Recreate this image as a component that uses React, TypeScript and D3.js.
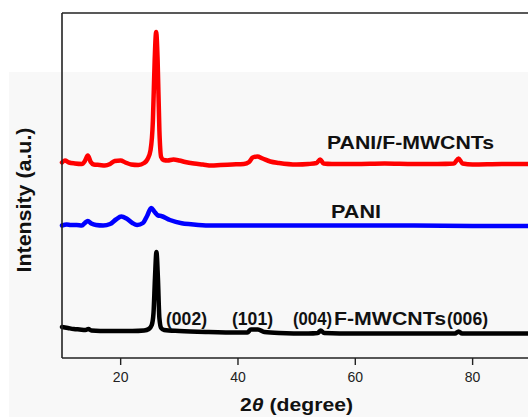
import React from "react";
import * as d3 from "d3";

const W = 528;
const H = 417;

// 2θ (degree) and intensity (a.u.) for each pattern
const pcTheta = [10.0, 10.5, 11.2, 12.2, 13.4, 13.9, 14.4, 14.9, 15.4, 16.4, 17.3, 18.2, 19.0, 20.0, 20.8, 21.8, 23.0, 24.0, 24.6, 25.1, 25.5, 25.8, 26.05, 26.3, 26.6, 26.9, 27.3, 28.0, 29.0, 30.0, 31.0, 32.5, 34.0, 35.5, 37.0, 39.0, 41.0, 41.9, 42.5, 43.3, 44.2, 45.5, 47.0, 50.0, 52.0, 53.4, 54.0, 54.6, 56.0, 60.0, 65.0, 70.0, 74.0, 76.8, 77.6, 78.3, 80.0, 85.0, 90.0];
const pcInt = [195.5, 197.5, 195.5, 194.5, 194, 197, 202.5, 196, 193.5, 193, 192.5, 194, 197, 197.5, 195.5, 193.5, 193, 195, 199, 208, 238, 298, 326, 298, 228, 201, 198, 197.5, 198.5, 197.5, 196, 194.5, 193.5, 192.5, 193, 193.5, 194, 196, 200.5, 201.5, 199.5, 196.5, 195, 193.5, 194, 195, 198.5, 194.5, 194, 194, 194.5, 194, 194, 194.5, 199.5, 194.5, 193.5, 194, 194];

const paniTheta = [10.0, 10.8, 11.5, 12.5, 13.4, 13.9, 14.4, 15.0, 15.8, 17.0, 18.2, 19.2, 20.1, 21.0, 22.0, 22.8, 23.8, 24.5, 25.2, 25.8, 26.4, 26.9, 28.4, 30.4, 32.0, 35.0, 40.0, 50.0, 60.0, 70.0, 80.0, 90.0];
const paniInt = [132.5, 133.5, 133, 133, 132.5, 135, 137, 134.5, 133, 132.5, 134, 138.5, 141.5, 139.5, 135, 133, 135, 142, 150, 146, 142.5, 142, 138, 134.7, 133.7, 132.5, 132.5, 132.5, 132.5, 132.5, 132, 132];

const cntTheta = [10.0, 11.0, 12.0, 13.0, 14.0, 14.5, 15.0, 18.0, 22.0, 24.0, 24.8, 25.3, 25.6, 25.85, 26.1, 26.35, 26.6, 26.9, 27.4, 30.0, 35.0, 40.0, 41.6, 42.2, 43.4, 44.5, 47.0, 52.0, 53.6, 54.1, 54.7, 60.0, 70.0, 77.0, 77.6, 78.2, 85.0, 90.0];
const cntInt = [31, 30, 29, 28.5, 28, 29, 27.5, 27, 27, 27.5, 29, 33, 45, 80, 106, 80, 40, 30, 28, 27, 26, 25.5, 25.5, 28.5, 28.5, 26, 25, 24.5, 25, 27.5, 25, 24.5, 24.5, 24.5, 26.5, 24.5, 24.5, 24.5];

const xTicks = [20, 40, 60, 80];

const seriesColors = ["#ff0000", "#0000ff", "#000000"];

type Lbl = { text: string; x: number; y: number; w: number };
const curveLabels: Lbl[] = [
  { text: "PANI/F-MWCNTs", x: 327, y: 149, w: 167 },
  { text: "PANI", x: 331, y: 218, w: 50 },
  { text: "F-MWCNTs", x: 334, y: 325, w: 112 },
];
const planeLabels: Lbl[] = [
  { text: "(002)", x: 166, y: 325, w: 41 },
  { text: "(101)", x: 232, y: 325, w: 41 },
  { text: "(004)", x: 293, y: 325, w: 39 },
  { text: "(006)", x: 447, y: 325, w: 41 },
];

export default function App() {
  const left = 62;
  const top = 13;
  const bottom = 358;
  const x = d3.scaleLinear().domain([10, 90]).range([left, left + 80 * 5.866]);
  const y = d3.scaleLinear().domain([0, 345]).range([bottom, top]);

  const line = d3
    .line<[number, number]>()
    .x((d) => x(d[0]))
    .y((d) => y(d[1]))
    .curve(d3.curveMonotoneX);

  const series: [number, number][][] = [
    pcTheta.map((t, i) => [t, pcInt[i]] as [number, number]),
    paniTheta.map((t, i) => [t, paniInt[i]] as [number, number]),
    cntTheta.map((t, i) => [t, cntInt[i]] as [number, number]),
  ];

  const font = "Arial, 'Liberation Sans', Helvetica, sans-serif";

  return (
    <svg
      width={W}
      height={H}
      style={{ position: "absolute", left: 0, top: 0, display: "block", background: "#ffffff" }}
      fontFamily={font}
    >
      <rect x={9} y={72} width={W - 9} height={H - 72} fill="#f8f8f8" />
      {series.map((s, i) => (
        <path
          key={i}
          d={line(s) || ""}
          fill="none"
          stroke={seriesColors[i]}
          strokeWidth={4.5}
          strokeLinejoin="round"
          strokeLinecap="round"
        />
      ))}
      {/* frame */}
      <line x1={left} x2={W} y1={top} y2={top} stroke="#222" strokeWidth={1.6} />
      <line x1={left} x2={left} y1={top} y2={bottom} stroke="#222" strokeWidth={1.6} />
      <line x1={left} x2={W} y1={bottom} y2={bottom} stroke="#222" strokeWidth={1.6} />
      {xTicks.map((t) => (
        <g key={t}>
          <line x1={x(t)} x2={x(t)} y1={bottom} y2={bottom + 7} stroke="#222" strokeWidth={1.4} />
          <text x={x(t)} y={382} textAnchor="middle" fontSize={14} fill="#222">
            {t}
          </text>
        </g>
      ))}
      {curveLabels.concat(planeLabels).map((l) => (
        <text
          key={l.text}
          x={l.x}
          y={l.y}
          fontSize={17.5}
          fontWeight="bold"
          fill="#111"
          textLength={l.w}
          lengthAdjust="spacingAndGlyphs"
        >
          {l.text}
        </text>
      ))}
      <text
        transform={`translate(31,200) rotate(-90)`}
        textAnchor="middle"
        fontSize={20}
        fontWeight="bold"
        fill="#111"
        textLength={145}
        lengthAdjust="spacingAndGlyphs"
      >
        Intensity (a.u.)
      </text>
      <text x={240} y={411} fontSize={19} fontWeight="bold" fill="#111" textLength={113} lengthAdjust="spacingAndGlyphs">
        2<tspan fontStyle="italic">θ</tspan> (degree)
      </text>
    </svg>
  );
}
